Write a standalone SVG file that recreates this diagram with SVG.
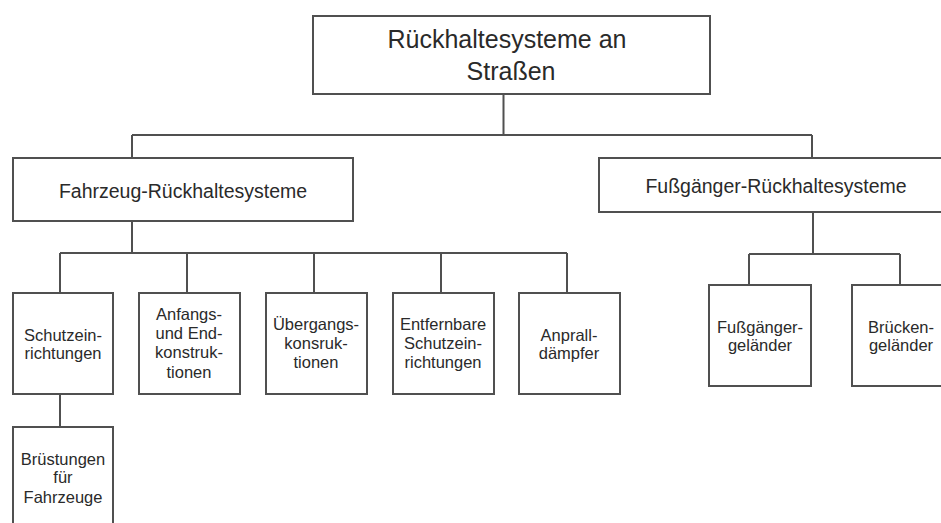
<svg xmlns="http://www.w3.org/2000/svg" width="941" height="523" viewBox="0 0 941 523">
<style>
.box{fill:#fff;stroke:#505050;stroke-width:2}
.ln{fill:none;stroke:#505050;stroke-width:2}
text{font-family:"Liberation Sans",Arial,sans-serif;fill:#2a2a2a;text-anchor:middle}
.t1{font-size:25px}
.t2{font-size:19.5px}
.t3{font-size:16.5px}
</style>
<rect width="941" height="523" fill="#fff"/>
<g id="connectors">
<path class="ln" d="M503.5 94V135M132 135H812M132 135V158M812 135V158"/>
<path class="ln" d="M132 221V253M60 253H567M60 253V293M187 253V293M314 253V293M441 253V293M567 253V293"/>
<path class="ln" d="M60 394V427"/>
<path class="ln" d="M813 212V254M749 254H900M749 254V285M900 254V285"/>
</g>
<g id="root"><rect class="box" x="313" y="16" width="397" height="78"/><text class="t1" x="507" y="48">Rückhaltesysteme an</text><text class="t1" x="511" y="80">Straßen</text></g>
<g id="fahrzeug"><rect class="box" x="13" y="158" width="340" height="63"/><text class="t2" x="183" y="198">Fahrzeug-Rückhaltesysteme</text></g>
<g id="fussgaenger"><rect class="box" x="599" y="158" width="360" height="54"/><text class="t2" x="776" y="193">Fußgänger-Rückhaltesysteme</text></g>
<g id="schutz"><rect class="box" x="13" y="293" width="100" height="101"/><text class="t3" x="63" y="341">Schutzein-</text><text class="t3" x="63" y="359">richtungen</text></g>
<g id="anfang"><rect class="box" x="139" y="293" width="101" height="101"/><text class="t3" x="189" y="320">Anfangs-</text><text class="t3" x="189" y="339">und End-</text><text class="t3" x="189" y="358">konstruk-</text><text class="t3" x="189" y="378">tionen</text></g>
<g id="uebergang"><rect class="box" x="266" y="293" width="101" height="101"/><text class="t3" x="316" y="330">Übergangs-</text><text class="t3" x="316" y="349">konsruk-</text><text class="t3" x="316" y="368">tionen</text></g>
<g id="entfernbar"><rect class="box" x="393" y="293" width="101" height="101"/><text class="t3" x="443" y="330">Entfernbare</text><text class="t3" x="443" y="349">Schutzein-</text><text class="t3" x="443" y="368">richtungen</text></g>
<g id="anprall"><rect class="box" x="519" y="293" width="101" height="101"/><text class="t3" x="569" y="341">Anprall-</text><text class="t3" x="569" y="359">dämpfer</text></g>
<g id="bruestung"><rect class="box" x="13" y="427" width="100" height="110"/><text class="t3" x="63" y="465">Brüstungen</text><text class="t3" x="63" y="483">für</text><text class="t3" x="63" y="503">Fahrzeuge</text></g>
<g id="fgelaender"><rect class="box" x="709" y="285" width="102" height="101"/><text class="t3" x="760" y="333">Fußgänger-</text><text class="t3" x="760" y="351">geländer</text></g>
<g id="bgelaender"><rect class="box" x="852" y="285" width="110" height="101"/><text class="t3" x="901" y="333">Brücken-</text><text class="t3" x="901" y="351">geländer</text></g>
</svg>
